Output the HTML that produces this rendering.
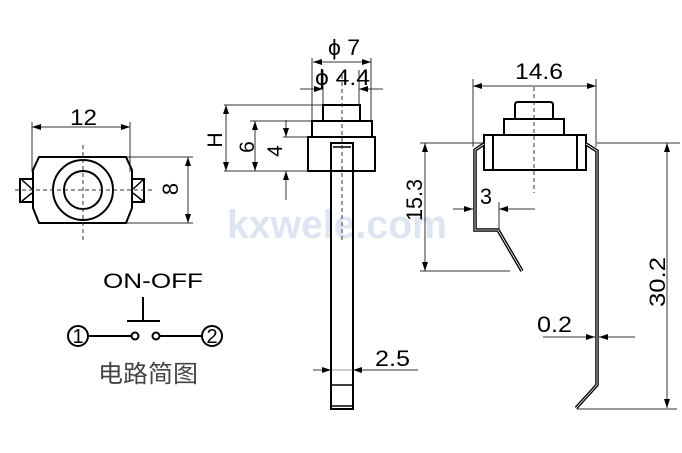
<!DOCTYPE html>
<html><head><meta charset="utf-8"><style>
html,body{margin:0;padding:0;background:#fff;}
svg{display:block;}
text{font-family:"Liberation Sans","Noto Sans CJK SC",sans-serif;fill:#000;}
</style></head><body>
<svg width="682" height="453" viewBox="0 0 682 453" xmlns="http://www.w3.org/2000/svg">
<rect width="682" height="453" fill="#fff"/>
<!-- watermark -->
<text x="227" y="238" font-size="40" font-weight="bold" style="fill:#dde6f0" textLength="220" lengthAdjust="spacingAndGlyphs">kxwele.com</text>

<!-- ============ LEFT TOP VIEW ============ -->
<g stroke="#333" stroke-width="1" fill="none">
  <line x1="32" y1="122" x2="32" y2="172"/>
  <line x1="130" y1="122" x2="130" y2="172"/>
  <line x1="32" y1="127" x2="130" y2="127"/>
  <line x1="126" y1="157" x2="193" y2="157"/>
  <line x1="126" y1="223" x2="193" y2="223"/>
  <line x1="188" y1="157" x2="188" y2="223"/>
</g>
<g fill="#000">
  <polygon points="32,127 41,124 41,130"/>
  <polygon points="130,127 121,124 121,130"/>
  <polygon points="188,157 185,166 191,166"/>
  <polygon points="188,223 185,214 191,214"/>
</g>
<text x="70" y="125" font-size="22" textLength="27" lengthAdjust="spacingAndGlyphs">12</text>
<text transform="translate(178,189) rotate(-90)" text-anchor="middle" font-size="22">8</text>
<g stroke="#000" stroke-width="2" fill="none">
  <path d="M39,157 L126,157 L132,170 L132,208 L126,223 L39,223 L33,208 L33,170 Z"/>
  <rect x="20" y="179" width="13" height="23"/>
  <rect x="132" y="179" width="12" height="23"/>
  <path d="M22,180 L32,189 M22,201 L32,193" stroke-width="1.5"/>
  <path d="M143,180 L133,189 M143,201 L133,193" stroke-width="1.5"/>
  <circle cx="83" cy="190" r="30"/>
  <circle cx="83" cy="190" r="19"/>
</g>
<g stroke="#333" stroke-width="1" stroke-dasharray="4,3" fill="none">
  <line x1="15" y1="190" x2="155" y2="190"/>
  <line x1="83" y1="145" x2="83" y2="240"/>
</g>

<!-- ============ CIRCUIT ============ -->
<text x="103" y="288" font-size="21" textLength="100" lengthAdjust="spacingAndGlyphs">ON-OFF</text>
<g stroke="#000" stroke-width="2" fill="none">
  <line x1="143" y1="297" x2="143" y2="321"/>
  <line x1="127" y1="321" x2="160" y2="321"/>
  <circle cx="78" cy="336" r="10"/>
  <circle cx="212" cy="336" r="10"/>
  <circle cx="135" cy="336" r="3.5"/>
  <circle cx="156" cy="336" r="3.5"/>
  <line x1="88" y1="336" x2="131.5" y2="336"/>
  <line x1="159.5" y1="336" x2="202" y2="336"/>
</g>
<text x="78" y="343" font-size="20" text-anchor="middle">1</text>
<text x="212" y="343" font-size="20" text-anchor="middle">2</text>
<text x="98" y="382" font-size="24" style="fill:#444" textLength="100" lengthAdjust="spacingAndGlyphs">电路简图</text>

<!-- ============ MIDDLE SIDE VIEW ============ -->
<g stroke="#333" stroke-width="1" fill="none">
  <line x1="312" y1="58" x2="312" y2="121"/>
  <line x1="371" y1="58" x2="371" y2="121"/>
  <line x1="313" y1="62" x2="371" y2="62"/>
  <line x1="323" y1="70" x2="323" y2="105"/>
  <line x1="359" y1="70" x2="359" y2="105"/>
  <line x1="300" y1="89" x2="323" y2="89"/>
  <line x1="359" y1="89" x2="383" y2="89"/>
  <line x1="224" y1="105" x2="323" y2="105"/>
  <line x1="224" y1="171" x2="308" y2="171"/>
  <line x1="226" y1="105" x2="226" y2="171"/>
  <line x1="250" y1="121" x2="312" y2="121"/>
  <line x1="255" y1="121" x2="255" y2="171"/>
  <line x1="283" y1="137" x2="308" y2="137"/>
  <line x1="286" y1="120" x2="286" y2="137"/>
  <line x1="286" y1="171" x2="286" y2="200"/>
  <line x1="313" y1="370" x2="331" y2="370"/>
  <line x1="353" y1="370" x2="418" y2="370"/>
  <line x1="331" y1="370" x2="353" y2="370" stroke="#999"/>
</g>
<g fill="#000">
  <polygon points="313,62 322,59 322,65"/>
  <polygon points="371,62 362,59 362,65"/>
  <polygon points="323,89 314,86 314,92"/>
  <polygon points="359,89 368,86 368,92"/>
  <polygon points="226,105 223,114 229,114"/>
  <polygon points="226,171 223,162 229,162"/>
  <polygon points="255,121 252,130 258,130"/>
  <polygon points="255,171 252,162 258,162"/>
  <polygon points="286,137 283,128 289,128"/>
  <polygon points="286,171 283,180 289,180"/>
  <polygon points="331,370 322,367 322,373"/>
  <polygon points="353,370 362,367 362,373"/>
</g>
<text x="328" y="55" font-size="22" textLength="32" lengthAdjust="spacingAndGlyphs">ϕ 7</text>
<text x="315" y="85" font-size="22" textLength="55" lengthAdjust="spacingAndGlyphs">ϕ 4.4</text>
<text transform="translate(222,140) rotate(-90)" text-anchor="middle" font-size="21">H</text>
<text transform="translate(254,147) rotate(-90)" text-anchor="middle" font-size="21">6</text>
<text transform="translate(282,151) rotate(-90)" text-anchor="middle" font-size="21">4</text>
<text x="375" y="366" font-size="22" textLength="35" lengthAdjust="spacingAndGlyphs">2.5</text>
<g stroke="#000" stroke-width="2" fill="none">
  <rect x="323" y="105" width="37" height="16"/>
  <rect x="312" y="121" width="60" height="16"/>
  <rect x="308" y="137" width="67" height="34"/>
  <rect x="331" y="143" width="22" height="266"/>
  <line x1="333" y1="147" x2="351" y2="147" stroke-width="1.5"/>
  <line x1="331" y1="385" x2="353" y2="385" stroke-width="1.5"/>
  <line x1="331" y1="406" x2="353" y2="406" stroke-width="1.5"/>
</g>
<line x1="342" y1="75" x2="342" y2="240" stroke="#333" stroke-width="1" stroke-dasharray="4,3"/>

<!-- ============ RIGHT SIDE VIEW ============ -->
<g stroke="#333" stroke-width="1" fill="none">
  <line x1="473" y1="79" x2="473" y2="147"/>
  <line x1="596" y1="79" x2="596" y2="147"/>
  <line x1="473" y1="86" x2="596" y2="86"/>
  <line x1="420" y1="143" x2="483" y2="143"/>
  <line x1="420" y1="271" x2="510" y2="271"/>
  <line x1="425" y1="143" x2="425" y2="271"/>
  <line x1="453" y1="209" x2="473" y2="209"/>
  <line x1="499" y1="209" x2="535" y2="209"/>
  <line x1="499" y1="202" x2="499" y2="230"/>
  <line x1="597" y1="143" x2="680" y2="143"/>
  <line x1="667" y1="143" x2="667" y2="408"/>
  <line x1="577" y1="409" x2="677" y2="409"/>
  <line x1="543" y1="337" x2="595" y2="337"/>
  <line x1="599" y1="337" x2="635" y2="337"/>
</g>
<g fill="#000">
  <polygon points="473,86 482,83 482,89"/>
  <polygon points="596,86 587,83 587,89"/>
  <polygon points="425,143 422,152 428,152"/>
  <polygon points="425,271 422,262 428,262"/>
  <polygon points="473,209 464,206 464,212"/>
  <polygon points="499,209 508,206 508,212"/>
  <polygon points="667,143 664,152 670,152"/>
  <polygon points="667,408 664,399 670,399"/>
  <polygon points="595,337 586,334 586,340"/>
  <polygon points="599,337 608,334 608,340"/>
</g>
<text x="515" y="79" font-size="22" textLength="48" lengthAdjust="spacingAndGlyphs">14.6</text>
<text x="480" y="204" font-size="22" textLength="12" lengthAdjust="spacingAndGlyphs">3</text>
<text x="537" y="332" font-size="22" textLength="35" lengthAdjust="spacingAndGlyphs">0.2</text>
<text transform="translate(422,200) rotate(-90)" text-anchor="middle" font-size="22" textLength="42" lengthAdjust="spacingAndGlyphs">15.3</text>
<text transform="translate(665,282) rotate(-90)" text-anchor="middle" font-size="22" textLength="50" lengthAdjust="spacingAndGlyphs">30.2</text>
<g stroke="#000" stroke-width="2" fill="none">
  <path d="M515,119 L515,105 Q515,102 518,102 L550,102 Q553,102 553,105 L553,119"/>
  <rect x="504" y="119" width="60" height="16"/>
  <rect x="484" y="135" width="102" height="35"/>
  <line x1="493" y1="135" x2="493" y2="170"/>
  <line x1="577" y1="135" x2="577" y2="170"/>
</g>
<g fill="none" stroke-linejoin="miter">
  <path d="M484,144 L475,150 L475,230 L498,230 L522,271" stroke="#000" stroke-width="3.5"/>
  <path d="M484,144 L475,150 L475,230 L498,230 L522,271" stroke="#fff" stroke-width="0.8"/>
  <path d="M586,144 L597,151 L597,385 L576,408" stroke="#000" stroke-width="3.5"/>
  <path d="M586,144 L597,151 L597,385 L576,408" stroke="#fff" stroke-width="0.8"/>
</g>
<line x1="534" y1="87" x2="534" y2="193" stroke="#333" stroke-width="1" stroke-dasharray="4,3"/>
</svg>
</body></html>
